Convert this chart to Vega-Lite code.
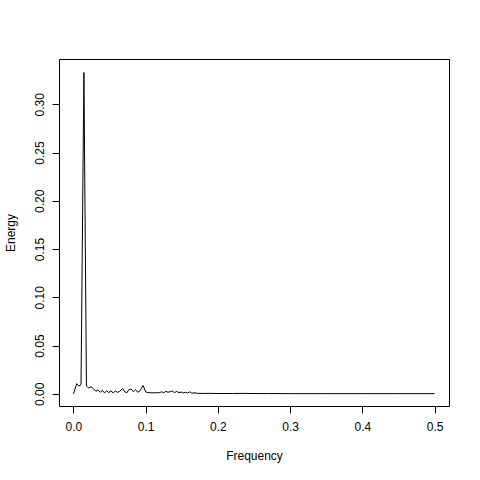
{
  "$schema": "https://vega.github.io/schema/vega-lite/v6.json",
  "autosize": "none",
  "width": 390,
  "height": 347,
  "padding": {"left": 59, "top": 59, "right": 31, "bottom": 74},
  "background": "white",
  "config": {
    "view": {"stroke": "black", "strokeWidth": 1},
    "font": "Liberation Sans",
    "axis": {
      "grid": false,
      "domain": false,
      "tickColor": "black",
      "tickSize": 7,
      "labelColor": "black",
      "labelFontSize": 12,
      "labelFont": "Liberation Sans",
      "titleColor": "black",
      "titleFontSize": 12,
      "titleFont": "Liberation Sans",
      "titleFontWeight": "normal"
    }
  },
  "data": {
    "values": [
      {"f": 0.000, "v": 0.0000},
      {"f": 0.0045, "v": 0.0105},
      {"f": 0.0075, "v": 0.0080},
      {"f": 0.0105, "v": 0.0095},
      {"f": 0.0145, "v": 0.3330},
      {"f": 0.018, "v": 0.0080},
      {"f": 0.021, "v": 0.0060},
      {"f": 0.0245, "v": 0.0072},
      {"f": 0.028, "v": 0.0050},
      {"f": 0.031, "v": 0.0025},
      {"f": 0.034, "v": 0.0040},
      {"f": 0.037, "v": 0.0015},
      {"f": 0.040, "v": 0.0035},
      {"f": 0.043, "v": 0.0010},
      {"f": 0.046, "v": 0.0030},
      {"f": 0.049, "v": 0.0012},
      {"f": 0.052, "v": 0.0030},
      {"f": 0.055, "v": 0.0010},
      {"f": 0.058, "v": 0.0028},
      {"f": 0.061, "v": 0.0015},
      {"f": 0.064, "v": 0.0025},
      {"f": 0.068, "v": 0.0055},
      {"f": 0.071, "v": 0.0020},
      {"f": 0.074, "v": 0.0010},
      {"f": 0.077, "v": 0.0045},
      {"f": 0.080, "v": 0.0048},
      {"f": 0.083, "v": 0.0020},
      {"f": 0.086, "v": 0.0042},
      {"f": 0.089, "v": 0.0015},
      {"f": 0.092, "v": 0.0030},
      {"f": 0.0965, "v": 0.0085},
      {"f": 0.100, "v": 0.0020},
      {"f": 0.103, "v": 0.0012},
      {"f": 0.107, "v": 0.0010},
      {"f": 0.111, "v": 0.0010},
      {"f": 0.115, "v": 0.0010},
      {"f": 0.119, "v": 0.0012},
      {"f": 0.122, "v": 0.0020},
      {"f": 0.125, "v": 0.0010},
      {"f": 0.128, "v": 0.0025},
      {"f": 0.131, "v": 0.0015},
      {"f": 0.134, "v": 0.0022},
      {"f": 0.137, "v": 0.0028},
      {"f": 0.140, "v": 0.0012},
      {"f": 0.143, "v": 0.0025},
      {"f": 0.146, "v": 0.0010},
      {"f": 0.149, "v": 0.0018},
      {"f": 0.152, "v": 0.0008},
      {"f": 0.155, "v": 0.0015},
      {"f": 0.158, "v": 0.0008},
      {"f": 0.161, "v": 0.0020},
      {"f": 0.164, "v": 0.0006},
      {"f": 0.168, "v": 0.0010},
      {"f": 0.172, "v": 0.0004},
      {"f": 0.180, "v": 0.0003},
      {"f": 0.190, "v": 0.0004},
      {"f": 0.200, "v": 0.0002},
      {"f": 0.210, "v": 0.0003},
      {"f": 0.220, "v": 0.0002},
      {"f": 0.235, "v": 0.0004},
      {"f": 0.250, "v": 0.0002},
      {"f": 0.270, "v": 0.0002},
      {"f": 0.300, "v": 0.0001},
      {"f": 0.350, "v": 0.0001},
      {"f": 0.400, "v": 0.0001},
      {"f": 0.450, "v": 0.0001},
      {"f": 0.500, "v": 0.0001}
    ]
  },
  "mark": {"type": "line", "color": "black", "strokeWidth": 1},
  "encoding": {
    "x": {
      "field": "f",
      "type": "quantitative",
      "scale": {"domain": [-0.02, 0.52], "nice": false, "zero": false},
      "axis": {
        "title": "Frequency",
        "values": [0, 0.1, 0.2, 0.3, 0.4, 0.5],
        "format": ".1f",
        "labelPadding": 8,
        "titlePadding": 18
      }
    },
    "y": {
      "field": "v",
      "type": "quantitative",
      "scale": {"domain": [-0.0127, 0.347], "nice": false, "zero": false},
      "axis": {
        "title": "Energy",
        "values": [0, 0.05, 0.1, 0.15, 0.2, 0.25, 0.3],
        "format": ".2f",
        "labelAngle": -90,
        "labelAlign": "center",
        "labelBaseline": "bottom",
        "labelPadding": 6,
        "titlePadding": 16
      }
    }
  }
}
